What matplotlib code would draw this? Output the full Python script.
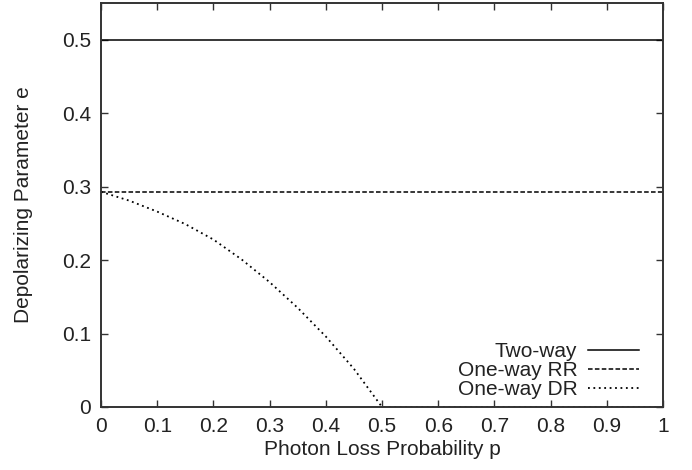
import matplotlib.pyplot as plt
import numpy as np

plt.rcParams['font.family'] = ['Liberation Sans', 'DejaVu Sans']

# Data
p_two = [0.0, 1.0]
e_two = [0.5, 0.5]

p_rr = [0.0, 1.0]
e_rr = [0.2929, 0.2929]

p_dr = [0.0, 0.05, 0.1, 0.15, 0.2, 0.25, 0.3, 0.35, 0.4, 0.45, 0.5, 1.0]
e_dr = [0.293, 0.281, 0.266, 0.249, 0.228, 0.201, 0.170, 0.135, 0.096, 0.052, 0.0, 0.0]

xticks = np.round(np.arange(0, 1.01, 0.1), 1)
xlabels = ['0', '0.1', '0.2', '0.3', '0.4', '0.5', '0.6', '0.7', '0.8', '0.9', '1']
yticks = np.round(np.arange(0, 0.51, 0.1), 1)
ylabels = ['0', '0.1', '0.2', '0.3', '0.4', '0.5']

fs = 15

fig = plt.figure(figsize=(6.92, 4.70), dpi=100)
ax = fig.add_axes([101/692, 1 - 407/470, 562/692, 404/470])

ax.plot(p_two, e_two, color='black', lw=1.1, label='Two-way')
ax.plot(p_rr, e_rr, color='black', lw=1.1, linestyle=(0, (3, 1.5)), label='One-way RR')
ax.plot(p_dr, e_dr, color='black', lw=1.3, linestyle=(0, (1, 2)), label='One-way DR')

ax.set_xlim(0, 1)
ax.set_ylim(0, 0.55)
ax.set_xticks(xticks)
ax.set_xticklabels(xlabels)
ax.set_yticks(yticks)
ax.set_yticklabels(ylabels)

for s in ax.spines.values():
    s.set_color('#333333')
    s.set_linewidth(1.4)
ax.tick_params(direction='in', top=True, right=True, length=5, width=1,
               color='#333333', labelsize=fs, labelcolor='#222222', pad=7)

ax.set_xlabel('Photon Loss Probability p', fontsize=fs, color='#222222', labelpad=3)
ax.set_ylabel('Depolarizing Parameter e', fontsize=fs, color='#222222', labelpad=21)

ax.legend(loc='lower right', bbox_to_anchor=(0.957, 0.02), frameon=False,
          markerfirst=False, fontsize=fs, handlelength=2.45, handletextpad=0.5,
          labelspacing=0.0, borderpad=0, borderaxespad=0, labelcolor='#222222')

fig.savefig('out.png', dpi=100)
